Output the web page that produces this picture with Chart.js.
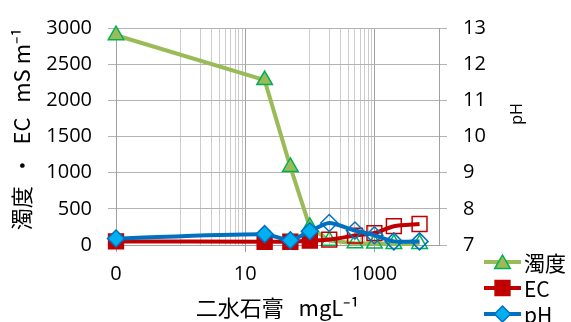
<!DOCTYPE html>
<html>
<head>
<meta charset="utf-8">
<script src="https://cdn.jsdelivr.net/npm/chart.js@4/dist/chart.umd.min.js"></script>
<style>
  html, body { margin: 0; padding: 0; background: #fff; }
  #wrap { width: 571px; height: 322px; }
</style>
</head>
<body>
<div id="wrap"><canvas id="chart" width="571" height="322"></canvas></div>
<script>
  // gypsum dose (mg/L); the 0 dose sits at 0.1 so it lands on the log axis
  var doses = [0.1, 20, 50, 100, 200, 500, 1000, 2000, 5000];
  var turbidity = [2900, 2280, 1080, 250, 60, 25, 20, 15, 15];
  var ec = [50, 45, 45, 60, 75, 130, 165, 260, 290];
  var ph = [7.18, 7.30, 7.13, 7.38, 7.61, 7.40, 7.27, 7.10, 7.10];
  var filledCount = 4; // first points drawn filled, the rest hollow

  // x axis: log, labelled every two decades, minor grid in between
  var xMajor = [0.1, 10, 1000];
  var xMajorLabels = ['0', '10', '1000'];
  var xMinor = [1, 2, 3, 4, 5, 6, 7, 8, 9, 100, 200, 300, 400, 500, 600, 700, 800, 900, 10000];

  var seriesNames = ['濁度', 'EC', 'pH'];

  var GREEN = '#9bbb59', GREEN_EDGE = '#00b050';
  var RED = '#c00000';
  var BLUE = '#0070c0', BLUE_FILL = '#00b0f0';
  var GRID = '#b3b3b3', GRID_MAJOR = '#a0a0a0', GRID_MINOR = '#cccccc';

  function pts(vals) {
    return vals.map(function (v, i) { return { x: doses[i], y: v }; });
  }
  function fills(color) {
    return doses.map(function (d, i) { return i < filledCount ? color : 'rgba(0,0,0,0)'; });
  }

  function drawMarker(ctx, style, x, y, r, fill, stroke, lw) {
    ctx.beginPath();
    if (style === 'triangle') {
      ctx.moveTo(x, y - r);
      ctx.lineTo(x + r * 0.866, y + r * 0.5);
      ctx.lineTo(x - r * 0.866, y + r * 0.5);
      ctx.closePath();
    } else if (style === 'rect') {
      var s = r * Math.SQRT1_2;
      ctx.rect(x - s, y - s, 2 * s, 2 * s);
    } else {
      ctx.moveTo(x, y - r);
      ctx.lineTo(x + r, y);
      ctx.lineTo(x, y + r);
      ctx.lineTo(x - r, y);
      ctx.closePath();
    }
    ctx.fillStyle = fill;
    ctx.fill();
    ctx.lineWidth = lw;
    ctx.strokeStyle = stroke;
    ctx.stroke();
  }

  // legend with line + marker, and the right axis title read bottom-to-top
  var extras = {
    id: 'extras',
    afterDraw: function (chart) {
      var ctx = chart.ctx;
      var rows = [
        { y: 262, line: GREEN, style: 'triangle', r: 9, fill: GREEN, edge: GREEN_EDGE, dy: 2 },
        { y: 288, line: RED, style: 'rect', r: 10.5, fill: RED, edge: RED, dy: 0 },
        { y: 314, line: BLUE, style: 'rectRot', r: 8, fill: BLUE_FILL, edge: BLUE, dy: 0 }
      ];
      ctx.save();
      rows.forEach(function (row, i) {
        ctx.beginPath();
        ctx.moveTo(484, row.y);
        ctx.lineTo(521, row.y);
        ctx.lineWidth = 4;
        ctx.strokeStyle = row.line;
        ctx.stroke();
        drawMarker(ctx, row.style, 502.5, row.y + row.dy, row.r, row.fill, row.edge, 1.5);
        ctx.fillStyle = '#000';
        ctx.font = '21px "Noto Sans CJK JP"';
        ctx.textAlign = 'left';
        ctx.textBaseline = 'middle';
        ctx.fillText(seriesNames[i], 524, row.y + 1);
      });
      ctx.translate(517, 114);
      ctx.rotate(-Math.PI / 2);
      ctx.font = '16px "Open Sans"';
      ctx.textAlign = 'center';
      ctx.fillText('pH', 0, 0);
      ctx.restore();
    }
  };

  var tickFont = { family: 'Open Sans', size: 20 };
  var titleFont = { family: 'Noto Sans CJK JP', size: 22 };
  function plain(v) { return String(v); }

  new Chart(document.getElementById('chart'), {
    type: 'line',
    data: {
      datasets: [
        {
          label: seriesNames[0], data: pts(turbidity), yAxisID: 'y', order: 3,
          borderColor: GREEN, borderWidth: 4, tension: 0, clip: false,
          pointStyle: 'triangle', pointRadius: 9, pointBorderWidth: 1.5,
          pointBackgroundColor: fills(GREEN), pointBorderColor: GREEN_EDGE
        },
        {
          label: seriesNames[1], data: pts(ec), yAxisID: 'y', order: 2,
          borderColor: RED, borderWidth: 4, tension: 0.25, clip: false,
          pointStyle: 'rect', pointRadius: 10.5, pointBorderWidth: 1.5,
          pointBackgroundColor: fills(RED), pointBorderColor: RED
        },
        {
          label: seriesNames[2], data: pts(ph), yAxisID: 'y2', order: 1,
          borderColor: BLUE, borderWidth: 4, tension: 0.25, clip: false,
          pointStyle: 'rectRot', pointRadius: 8.5, pointBorderWidth: 1.5,
          pointBackgroundColor: fills(BLUE_FILL), pointBorderColor: BLUE
        }
      ]
    },
    options: {
      responsive: false,
      animation: false,
      layout: { padding: { top: 22, left: 0, right: 0, bottom: 0 } },
      plugins: { legend: { display: false }, tooltip: { enabled: false } },
      scales: {
        x: {
          type: 'logarithmic',
          min: 0.1,
          max: 10000,
          afterBuildTicks: function (scale) {
            scale.ticks = xMajor.concat(xMinor).sort(function (a, b) { return a - b; })
              .map(function (v) { return { value: v }; });
          },
          afterFit: function (scale) { scale.height = 77; },
          ticks: {
            autoSkip: false, maxRotation: 0, padding: 10, color: '#000', font: tickFont,
            callback: function (v) {
              var k = xMajor.indexOf(v);
              return k >= 0 ? xMajorLabels[k] : '';
            }
          },
          grid: {
            tickLength: 7,
            color: function (c) { return xMajor.indexOf(c.tick.value) >= 0 ? GRID_MAJOR : GRID_MINOR; },
            tickColor: function (c) { return xMajor.indexOf(c.tick.value) >= 0 ? GRID_MAJOR : 'rgba(0,0,0,0)'; }
          },
          border: { color: GRID_MAJOR },
          title: {
            display: true, text: '二水石膏   mgL⁻¹', color: '#000', font: titleFont,
            padding: { top: 0, bottom: 1 }
          }
        },
        y: {
          position: 'left',
          min: 0,
          max: 3000,
          afterFit: function (scale) { scale.width = 116; },
          ticks: { stepSize: 500, padding: 16, color: '#000', font: tickFont, callback: plain },
          grid: { color: GRID, tickLength: 8 },
          border: { color: GRID_MAJOR },
          title: {
            display: true, text: '   濁度  ・  EC   mS m⁻¹', color: '#000', font: titleFont,
            padding: { top: 8, bottom: 0 }
          }
        },
        y2: {
          position: 'right',
          min: 7,
          max: 13,
          afterFit: function (scale) { scale.width = 132; },
          ticks: { stepSize: 1, padding: 16, color: '#000', font: tickFont, callback: plain },
          grid: { drawOnChartArea: false, color: GRID, tickLength: 8 },
          border: { color: GRID_MAJOR }
        }
      }
    },
    plugins: [extras]
  });
</script>
</body>
</html>
